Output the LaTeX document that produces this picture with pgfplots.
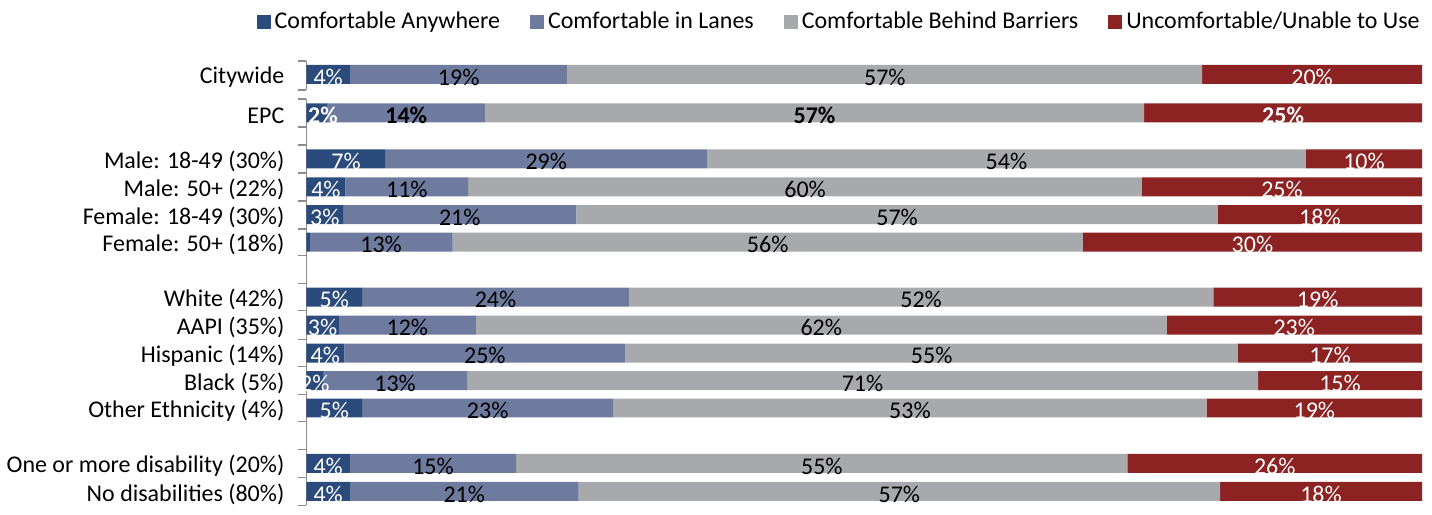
\documentclass[border=0pt]{standalone}
\usepackage{pgfplots}
\usepackage{pgfplotstable}
\pgfplotsset{compat=1.18}
\usepackage{fontspec}
\setmainfont{Carlito}
\definecolor{cA}{HTML}{2A4B7C}
\definecolor{cB}{HTML}{6E7B9F}
\definecolor{cC}{HTML}{A8A9AD}
\definecolor{cD}{HTML}{8C2322}
\definecolor{axg}{HTML}{8C8C8C}
\pgfplotstableread{
y     a    b    c    d    la lb lc ld
74.5  3.9  19.5 56.9 19.7 4  19 57 20
113   1.9  14.1 59.1 24.9 2  14 57 25
159   7.1  28.8 53.7 10.4 7  29 54 10
187   3.5  11.0 60.4 25.1 4  11 60 25
215   3.3  20.9 57.5 18.3 3  21 57 18
242.5 0.3  12.8 56.5 30.4 0  13 56 30
297.5 5.0  23.9 52.4 18.7 5  24 52 19
325.5 2.9  12.3 61.9 22.9 3  12 62 23
353.5 3.4  25.2 54.9 16.5 4  25 55 17
381   1.5  12.9 70.9 14.7 2  13 71 15
408.5 5.0  22.5 53.2 19.3 5  23 53 19
464   3.9  14.9 54.8 26.4 4  15 55 26
492   3.9  20.5 57.5 18.1 4  21 57 18
}\datatable
\pgfplotsset{
  legsq/.style={legend image code/.code={\fill[##1,draw=none] (0pt,-3.5pt) rectangle (7pt,3.5pt);}},
  common/.style={
    scale only axis, width=558.5pt, height=224.5pt,
    xmin=0, xmax=100, ymin=58, ymax=507, y dir=reverse,
    at={(0,0)}, anchor=south west, clip=false,
  },
  lab/.style={draw=none, mark=none, nodes near coords={\pgfplotspointmeta\%},
    nodes near coords align=center, point meta=explicit symbolic,
    every node near coord/.append style={font=\fontsize{12}{14}\selectfont, inner sep=0pt, yshift=-1.3pt}},
}
\begin{document}
\begin{tikzpicture}
\path (-152.5pt,-0.5pt) rectangle (563.5pt,253.5pt);
\begin{axis}[common,
  xbar stacked, bar width=19,
  hide x axis, axis y line=left, y axis line style={draw=none},
  ytick={74.5,113,159,187,215,242.5,297.5,325.5,353.5,381,408.5,464,492},
  yticklabels={Citywide,EPC,{Male: 18-49 (30\%)},{Male: 50+ (22\%)},{Female: 18-49 (30\%)},{Female: 50+ (18\%)},{White (42\%)},{AAPI (35\%)},{Hispanic (14\%)},{Black (5\%)},{Other Ethnicity (4\%)},{One or more disability (20\%)},{No disabilities (80\%)}},
  major tick length=0pt, tick align=outside,
  yticklabel style={font=\fontsize{12}{14}\selectfont, text=black, xshift=-7.5pt, yshift=-1.3pt},
  extra y ticks={61,90,99,127,145,173,201,229,256,284,311,340,367,395,422,450,478,506},
  extra y tick labels={},
  extra y tick style={major tick length=4pt, tick style={draw=axg, line width=0.8pt}},
  legend columns=4,
  legend style={draw=none, fill=none, at={(1,1)}, anchor=east, yshift=18pt, xshift=1pt,
    font=\fontsize{12}{14}\selectfont, inner sep=0pt,
    nodes={inner xsep=2pt, inner ysep=1pt},
    /tikz/every even column/.append style={column sep=13pt}},
]
\addplot[fill=cA, draw=none, legsq] table[x=a, y=y] {\datatable};
\addplot[fill=cB, draw=none, legsq] table[x=b, y=y] {\datatable};
\addplot[fill=cC, draw=none, legsq] table[x=c, y=y] {\datatable};
\addplot[fill=cD, draw=none, legsq] table[x=d, y=y] {\datatable};
\legend{Comfortable Anywhere, Comfortable in Lanes, Comfortable Behind Barriers, Uncomfortable/Unable to Use}
\draw[axg, line width=0.8pt] (axis cs:0,61) -- (axis cs:0,90);
\draw[axg, line width=0.8pt] (axis cs:0,99) -- (axis cs:0,506);
\end{axis}
\begin{axis}[common, hide axis]
\addplot[lab, skip coords between index={1}{2}, skip coords between index={5}{6}, every node near coord/.append style={text=white}]
  table[x expr=\thisrow{a}/2, y=y, meta=la] {\datatable};
\addplot[lab, skip coords between index={1}{2}, every node near coord/.append style={text=black}]
  table[x expr=\thisrow{a}+\thisrow{b}/2, y=y, meta=lb] {\datatable};
\addplot[lab, skip coords between index={1}{2}, every node near coord/.append style={text=black}]
  table[x expr=\thisrow{a}+\thisrow{b}+\thisrow{c}/2, y=y, meta=lc] {\datatable};
\addplot[lab, skip coords between index={1}{2}, every node near coord/.append style={text=white}]
  table[x expr=\thisrow{a}+\thisrow{b}+\thisrow{c}+\thisrow{d}/2, y=y, meta=ld] {\datatable};
% EPC in bold
\addplot[lab, skip coords between index={0}{1}, skip coords between index={2}{13}, every node near coord/.append style={text=white, xshift=3pt, font=\fontsize{12}{14}\selectfont\bfseries}]
  table[x expr=\thisrow{a}/2, y=y, meta=la] {\datatable};
\addplot[lab, skip coords between index={0}{1}, skip coords between index={2}{13}, every node near coord/.append style={text=black, font=\fontsize{12}{14}\selectfont\bfseries}]
  table[x expr=\thisrow{a}+\thisrow{b}/2, y=y, meta=lb] {\datatable};
\addplot[lab, skip coords between index={0}{1}, skip coords between index={2}{13}, every node near coord/.append style={text=black, font=\fontsize{12}{14}\selectfont\bfseries}]
  table[x expr=\thisrow{a}+\thisrow{b}+\thisrow{c}/2, y=y, meta=lc] {\datatable};
\addplot[lab, skip coords between index={0}{1}, skip coords between index={2}{13}, every node near coord/.append style={text=white, font=\fontsize{12}{14}\selectfont\bfseries}]
  table[x expr=\thisrow{a}+\thisrow{b}+\thisrow{c}+\thisrow{d}/2, y=y, meta=ld] {\datatable};
\end{axis}
\end{tikzpicture}
\end{document}
